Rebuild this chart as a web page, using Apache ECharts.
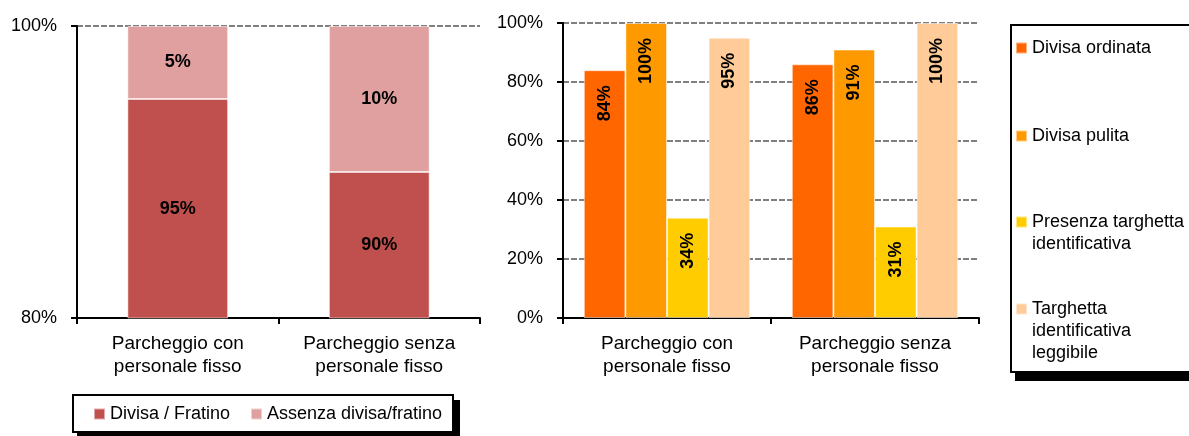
<!DOCTYPE html>
<html>
<head>
<meta charset="utf-8">
<script src="https://cdn.jsdelivr.net/npm/echarts@6/dist/echarts.min.js"></script>
<style>
  html, body { margin: 0; padding: 0; background: #fff; }
  #chart { width: 1189px; height: 436px; }
</style>
</head>
<body>
<div id="chart"></div>
<script>
// Parking categories shared by both panels
const categories = ['Parcheggio con\npersonale fisso', 'Parcheggio senza\npersonale fisso'];

// Left panel: uniform presence (stacked, %)
const uniformNames = ['Divisa / Fratino', 'Assenza divisa/fratino'];
const uniformYes = [95, 90];
const uniformNo = [5, 10];

// Right panel: uniform and badge checks (%)
const checkNames = ['Divisa ordinata', 'Divisa pulita', 'Presenza targhetta\nidentificativa', 'Targhetta\nidentificativa\nleggibile'];
const divisaOrdinata = [84, 86];
const divisaPulita = [100, 91];
const presenzaTarghetta = [34, 31];
const targhettaLeggibile = [95, 100];

const leftTicks = { min: 80, max: 100, interval: 20 };
const rightTicks = { min: 0, max: 100, interval: 20 };

const FONT = 'Liberation Sans, Arial, sans-serif';
const leftColors = ['#C0504D', '#DFA09F'];
const rightColors = ['#FF6600', '#FF9900', '#FFCC00', '#FFCC99'];

const axisLineStyle = { color: '#000', width: 2 };
const gridDash = { color: '#808080', width: 2, type: [6, 2] };

function xAxisCfg(gridIndex) {
  return {
    type: 'category', gridIndex: gridIndex, data: categories,
    axisLine: { show: true, lineStyle: axisLineStyle },
    axisTick: { show: true, length: 6, lineStyle: axisLineStyle },
    axisLabel: { color: '#000', fontFamily: FONT, fontSize: 19, lineHeight: 23, margin: 14 }
  };
}
function yAxisCfg(gridIndex, t) {
  return {
    type: 'value', gridIndex: gridIndex, min: t.min, max: t.max, interval: t.interval,
    axisLine: { show: true, lineStyle: axisLineStyle },
    axisTick: { show: true, length: 6, lineStyle: axisLineStyle },
    axisLabel: { color: '#000', fontFamily: FONT, fontSize: 18, margin: 20, formatter: '{value}%' },
    splitLine: { show: true, lineStyle: gridDash }
  };
}

const stackLabel = {
  show: true, position: 'inside', formatter: '{c}%',
  color: '#000', fontFamily: FONT, fontSize: 18, fontWeight: 'bold'
};
const barLabel = {
  show: true, position: 'insideTop', distance: 15, rotate: 90,
  align: 'right', verticalAlign: 'middle', formatter: '{c}%',
  color: '#000', fontFamily: FONT, fontSize: 18, fontWeight: 'bold'
};
const thinEdge = { borderColor: 'rgba(255,255,255,0.5)', borderWidth: 1 };

const rightData = [divisaOrdinata, divisaPulita, presenzaTarghetta, targhettaLeggibile];
const rightSeries = checkNames.map(function (name, i) {
  return {
    name: name, type: 'bar', xAxisIndex: 1, yAxisIndex: 1,
    data: rightData[i], barGap: '0%', barCategoryGap: '20%',
    itemStyle: Object.assign({ color: rightColors[i] }, thinEdge),
    label: barLabel
  };
});

// One legend block per check so each entry sits at its own fixed slot.
// Multi-line names get leading blank lines so the first line lines up with the swatch.
const LINE = 22;
const legendTextBase = { color: '#000', fontFamily: FONT, fontSize: 18, lineHeight: LINE };
const slotCenters = [48, 136, 222, 309];
const rightLegends = checkNames.map(function (name, i) {
  const lines = name.split('\n').length;
  const total = 2 * lines - 1;
  return {
    orient: 'vertical', left: 1015, top: slotCenters[i] - total * LINE / 2,
    padding: 0, itemWidth: 11, itemHeight: 11, icon: 'rect',
    data: [name],
    formatter: function (n) { return '\n'.repeat(lines - 1) + n; },
    textStyle: legendTextBase
  };
});

const option = {
  animation: false,
  backgroundColor: '#fff',
  grid: [
    { left: 77, top: 26, width: 403, height: 292 },
    { left: 563, top: 23, width: 416, height: 295 }
  ],
  xAxis: [xAxisCfg(0), xAxisCfg(1)],
  yAxis: [yAxisCfg(0, leftTicks), yAxisCfg(1, rightTicks)],
  graphic: [
    { type: 'rect', z: 0, shape: { x: 77, y: 400, width: 383, height: 40 }, style: { fill: '#000' } },
    { type: 'rect', z: 1, shape: { x: 73, y: 395, width: 380, height: 37 }, style: { fill: '#fff', stroke: '#000', lineWidth: 2 } },
    { type: 'rect', z: 0, shape: { x: 1015, y: 30, width: 200, height: 351 }, style: { fill: '#000' } },
    { type: 'rect', z: 1, shape: { x: 1011, y: 25, width: 200, height: 347 }, style: { fill: '#fff', stroke: '#000', lineWidth: 2 } }
  ],
  legend: [{
    orient: 'horizontal', left: 93, top: 403, padding: 0, itemGap: 20,
    itemWidth: 11, itemHeight: 11, icon: 'rect',
    data: uniformNames, textStyle: legendTextBase
  }].concat(rightLegends),
  series: [
    {
      name: uniformNames[0], type: 'bar', stack: 'uniform', xAxisIndex: 0, yAxisIndex: 0,
      data: uniformYes, barCategoryGap: '50%',
      itemStyle: Object.assign({ color: leftColors[0] }, thinEdge), label: stackLabel
    },
    {
      name: uniformNames[1], type: 'bar', stack: 'uniform', xAxisIndex: 0, yAxisIndex: 0,
      data: uniformNo, barCategoryGap: '50%',
      itemStyle: Object.assign({ color: leftColors[1] }, thinEdge), label: stackLabel
    }
  ].concat(rightSeries)
};

const chart = echarts.init(document.getElementById('chart'), null, { renderer: 'canvas' });
chart.setOption(option);
</script>
</body>
</html>
